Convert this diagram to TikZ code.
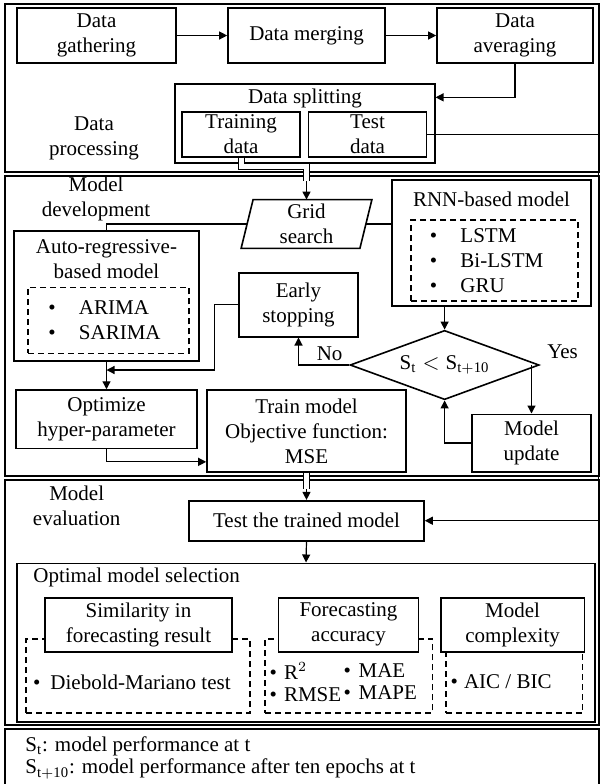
\documentclass[tikz,border=0pt]{standalone}
\usepackage{fontspec}
\setmainfont{Liberation Serif}
\usetikzlibrary{arrows.meta,shapes.geometric}

\begin{document}
\begin{tikzpicture}[
        x=0.5pt, y=-0.5pt,
        >={Triangle[length=4pt,width=4pt]},
        every node/.style={font=\fontsize{10.5}{12.5}\selectfont},
        section/.style={line width=1pt},
        box/.style={draw, line width=0.8pt, align=center, inner sep=0pt},
        dashbox/.style={draw, line width=0.8pt, dash pattern=on 3pt off 2pt},
        tag/.style={align=center, inner sep=0pt},
        items/.style={align=left, inner sep=0pt, anchor=west},
        link/.style={line width=0.6pt},
        arr/.style={link, ->},
        dbl/.style={double, double distance=2.5pt, line width=0.5pt}
      ]

      \useasboundingbox (0,0) rectangle (601,784);

      % outer frames of the four parts
      \draw[section] (5,4) rectangle (598.5,172);
      \draw[section] (5,176) rectangle (598.5,476);
      \draw[section] (5,480) rectangle (598.5,725);
      \draw[section] (5,784) |- (598.5,729) -- (598.5,784);

      \coordinate (rim) at (598.5,0);

      % Part 1: data processing
      \node[box, minimum width=79.5pt, minimum height=27.5pt] (gather) at (96.5,35.5) {Data\\gathering};
      \node[box, minimum width=78.5pt, minimum height=27.5pt] (merge) at (306.5,35.5) {Data merging};
      \node[box, minimum width=78pt, minimum height=27.5pt] (average) at (515,35.5) {Data\\averaging};

      \node[box, minimum width=129.75pt, minimum height=39.35pt] (split) at (305,123.5) {};
      \node[tag] (splittag) at (305,98) {Data splitting};
      \node[box, minimum width=59pt, minimum height=22.5pt] (train) at (241,134.2) {Training\\data};
      \node[box, minimum width=59pt, minimum height=22.5pt] (test) at (367.5,134.2) {Test\\data};
      \node[tag] (proctag) at (94,138) {Data\\processing};

      \draw[arr] (gather) -- (merge);
      \draw[arr] (merge) -- (average);
      \draw[arr] (average.south) |- ([yshift=-7pt]split.north east);

      % Part 2: model development
      \node[tag] (devtag) at (96,198.7) {Model\\development};

      \node[tag, minimum width=59pt, minimum height=24pt] (grid) at (306.5,224) {Grid\\search};
      \draw[line width=0.8pt] ([xshift=-3pt]grid.south west) -- ([xshift=3pt]grid.north west)
        -- ([xshift=3pt]grid.north east) -- ([xshift=-3pt]grid.south east) -- cycle;

      \node[box, minimum width=99.5pt, minimum height=63pt] (rnn) at (491.5,243) {};
      \node[tag] (rnntag) at (491.5,199.3) {RNN-based model};
      \node[dashbox, minimum width=83.5pt, minimum height=40.5pt] (rnnlist) at (494.5,260.5) {};
      \node[items] (rnnitems) at (429.5,260.7)
        {\textbullet\hspace{11.6pt}LSTM\\\textbullet\hspace{11.6pt}Bi-LSTM\\\textbullet\hspace{11.6pt}GRU};

      \node[box, minimum width=92.5pt, minimum height=65pt] (auto) at (106.5,296) {};
      \node[tag] (autotag) at (106.5,259.2) {Auto-regressive-\\based model};
      \node[dashbox, minimum width=80.5pt, minimum height=33pt] (autolist) at (108.5,320.3) {};
      \node[items] (autoitems) at (48,320.5)
        {\textbullet\hspace{11.6pt}ARIMA\\\textbullet\hspace{11.6pt}SARIMA};

      \node[box, minimum width=59.5pt, minimum height=32pt] (early) at (298.5,304.7) {Early\\stopping};
      \node[draw, diamond, line width=0.8pt, inner sep=0pt, shape aspect=2.7,
        minimum width=94.5pt, minimum height=34.65pt] (cond) at (444.6,365)
        {$\mathrm{S_t} < \mathrm{S_{t+10}}$};
      \node[tag] (notag) at (329.6,353.3) {No};
      \node[tag] (yestag) at (562.6,351.7) {Yes};

      \node[box, minimum width=90.5pt, minimum height=29.15pt] (opt) at (106.5,419.2) {Optimize\\hyper-parameter};
      \node[box, minimum width=99.5pt, minimum height=40.85pt] (trainm) at (306.5,430.9)
        {Train model\\Objective function:\\MSE};
      \node[box, minimum width=59.5pt, minimum height=28.7pt] (update) at (531.5,443) {Model\\update};

      \coordinate (trjoin) at (306.5,166);
      \coordinate (trcross) at (306.5,181);
      \draw[dbl] (train.south) |- (trjoin) -- (trcross);
      \draw[arr] (trcross) -- (grid.north);

      \draw[link] (grid.west) -| (auto.north);
      \draw[link] (grid.east) -- (grid.east -| rnn.west);
      \draw[arr] (cond.north |- rnn.south) -- (cond.north);
      \draw[arr] (cond.west) -| (early.south);

      \coordinate (esdrop) at (214.6,370);
      \draw[arr] (early.west) -| (esdrop) -- (esdrop -| auto.south);
      \draw[arr] (auto.south) -- (opt.north);
      \draw[arr] (opt.south) |- ([yshift=5.35pt]trainm.south west);
      \draw[arr] (cond.east -| update.north) -- (update.north);
      \draw[arr] (update.west) -| (cond.south);

      % Part 3: model evaluation
      \node[tag] (evaltag) at (76.7,506) {Model\\evaluation};
      \node[box, minimum width=117.5pt, minimum height=20pt] (testm) at (306.5,520.7) {Test the trained model};

      \coordinate (tmcross) at (306.5,489);
      \draw[dbl] (trainm.south) -- (tmcross);
      \draw[arr] (tmcross) -- (testm.north);
      \draw[arr] (test.east) -- (test.east -| rim) |- (testm.east);

      \node[box, minimum width=289pt, minimum height=79.2pt] (select) at (306,642.5) {};
      \node[tag, anchor=west] (selecttag) at (33,577) {Optimal model selection};
      \draw[arr] (testm.south) -- (select.north);

      \node[dashbox, minimum width=112pt, minimum height=37pt] (simdash) at (138,676) {};
      \node[dashbox, minimum width=83.7pt, minimum height=37pt] (accdash) at (348.7,676) {};
      \node[dashbox, minimum width=68.4pt, minimum height=37pt] (cplxdash) at (514.2,676) {};

      \node[box, fill=white, minimum width=93.5pt, minimum height=27pt] (sim) at (138.5,624.7)
        {Similarity in\\forecasting result};
      \node[box, fill=white, minimum width=70pt, minimum height=27pt] (acc) at (348.5,624.7)
        {Forecasting\\accuracy};
      \node[box, fill=white, minimum width=71.85pt, minimum height=27pt] (cplx) at (512.6,624.7)
        {Model\\complexity};

      \node[items] (simitems) at (32.7,682) {\textbullet\hspace{5pt}Diebold-Mariano test};
      \node[items] (accitemsA) at (269.3,682)
        {\textbullet\hspace{3.5pt}R$^2$\\[-1.5pt]\textbullet\hspace{3.5pt}RMSE};
      \node[items] (accitemsB) at (343.3,682)
        {\textbullet\hspace{3.8pt}MAE\\[-1.5pt]\textbullet\hspace{3.8pt}MAPE};
      \node[items] (cplxitems) at (450.3,682) {\textbullet\hspace{3pt}AIC / BIC};

      % legend
      \node[items] (legst) at (25,746) {S$_{\mathrm{t}}$: model performance at t};
      \node[items] (legstten) at (25,769) {S$_{\mathrm{t+10}}$: model performance after ten epochs at t};

    \end{tikzpicture}
\end{document}
